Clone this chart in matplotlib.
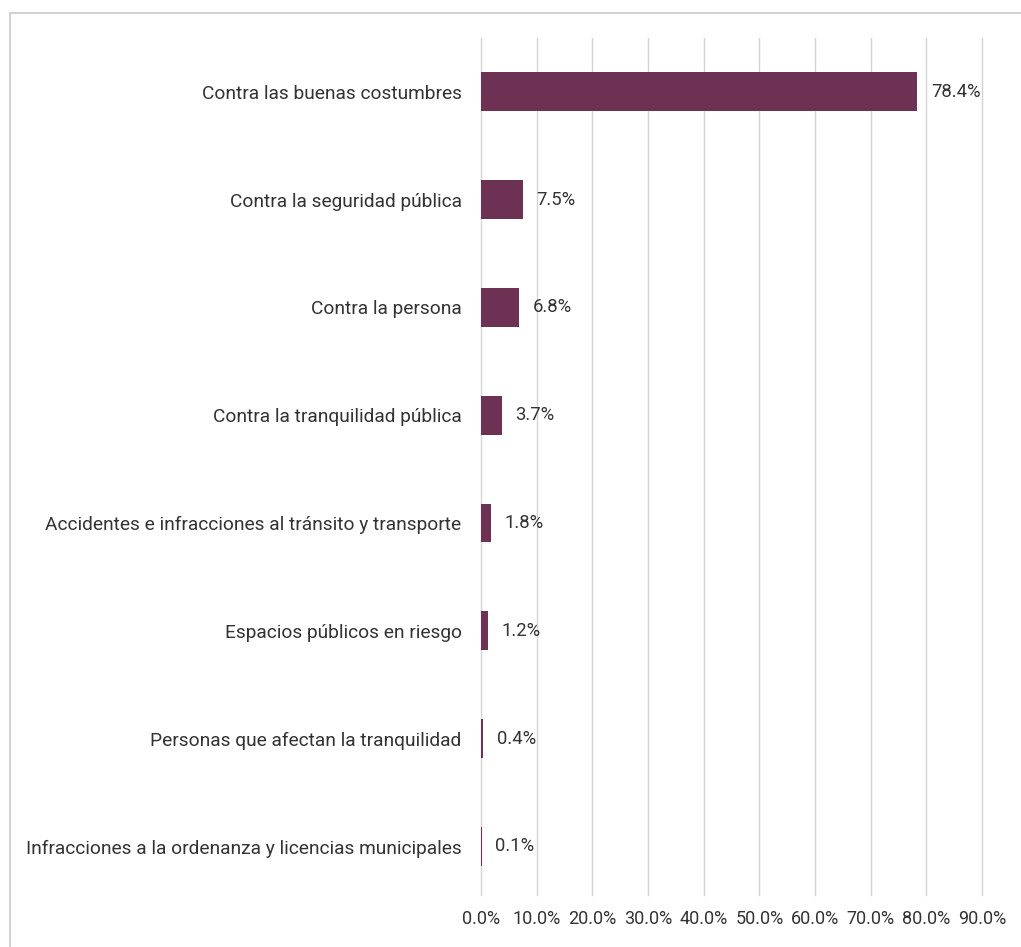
import matplotlib
matplotlib.use("Agg")
import matplotlib.pyplot as plt
from matplotlib.patches import Rectangle

categories = [
    "Contra las buenas costumbres",
    "Contra la seguridad pública",
    "Contra la persona",
    "Contra la tranquilidad pública",
    "Accidentes e infracciones al tránsito y transporte",
    "Espacios públicos en riesgo",
    "Personas que afectan la tranquilidad",
    "Infracciones a la ordenanza y licencias municipales",
]
values = [78.4, 7.5, 6.8, 3.7, 1.8, 1.2, 0.4, 0.1]
x_ticks = [0, 10, 20, 30, 40, 50, 60, 70, 80, 90]

bar_color = "#6d3253"
text_color = "#333333"

plt.rcParams['font.family'] = ['Roboto', 'DejaVu Sans']

W, H = 1021, 947
fig = plt.figure(figsize=(W / 100, H / 100), dpi=100)
ax = fig.add_axes([481 / W, 1 - 895 / H, (982 - 481) / W, (895 - 38) / H])

pos = list(range(len(categories)))
ax.barh(pos, values, height=0.36, color=bar_color, zorder=3)

for p, v in zip(pos, values):
    ax.annotate(f"{v:.1f}%", (v, p), xytext=(10, 0), textcoords="offset points",
                va="center", ha="left", fontsize=13.3, color=text_color)

ax.set_xlim(0, 90)
ax.set_ylim(7.45, -0.5)
ax.set_yticks(pos)
ax.set_yticklabels(categories)
ax.set_xticks(x_ticks)
ax.set_xticklabels([f"{t:.1f}%" for t in x_ticks])
ax.tick_params(axis="both", length=0, labelsize=13, labelcolor=text_color)
ax.tick_params(axis="y", pad=14, labelsize=13.8)
ax.tick_params(axis="x", pad=11)
ax.grid(axis="x", color="#d4d4d4", linewidth=1, zorder=0)
for line in ax.get_xgridlines():
    line.set_clip_on(False)
for s in ax.spines.values():
    s.set_visible(False)

# outer frame (runs off the right and bottom edge like the scan)
fig.patches.append(Rectangle((10 / W, -0.05), 1.1, (H - 13) / H + 0.05,
                             transform=fig.transFigure, fill=False,
                             edgecolor="#c8c8c8", linewidth=1.2))

fig.savefig("out.png", dpi=100, facecolor="white")
